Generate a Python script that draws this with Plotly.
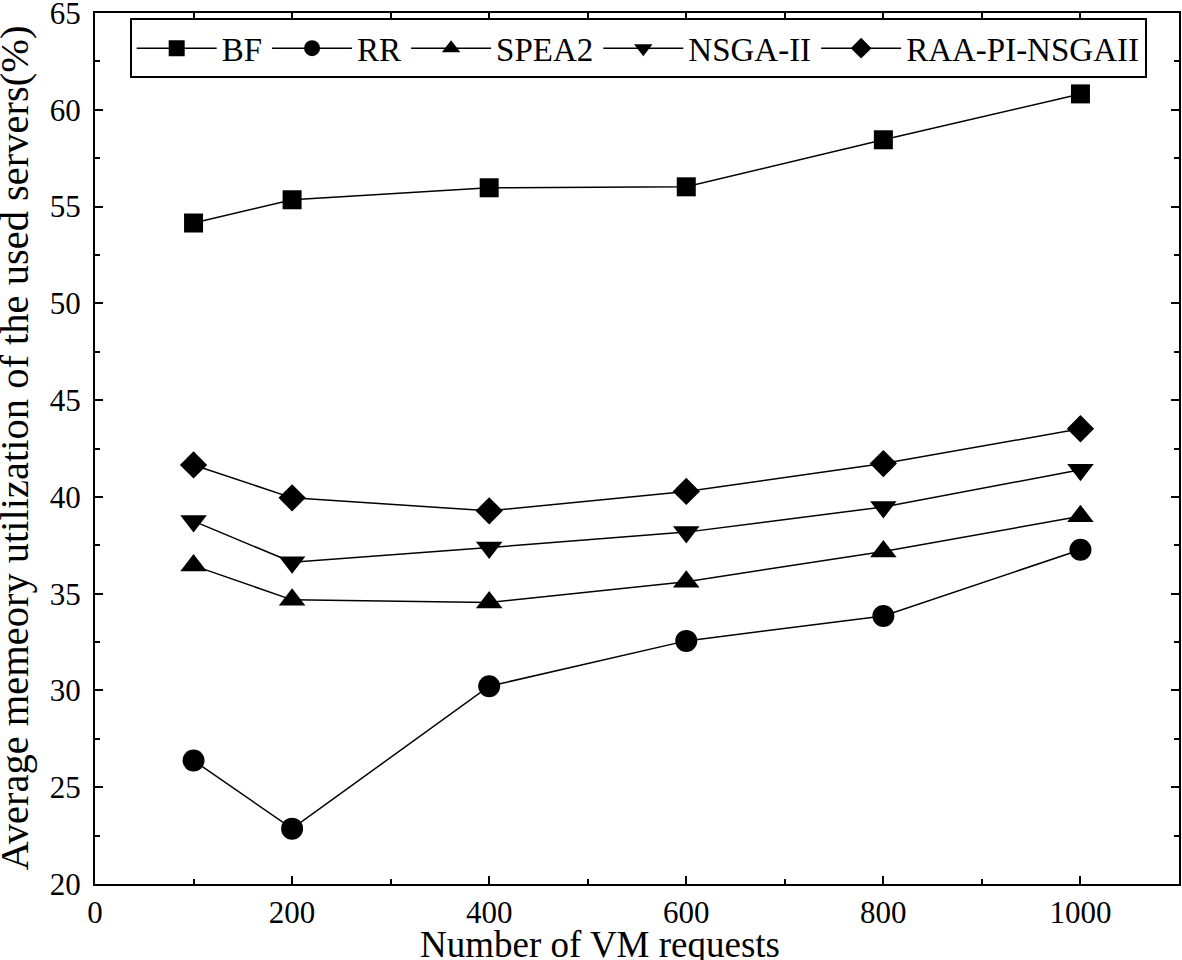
import plotly.graph_objects as go

x_vals = [100, 200, 400, 600, 800, 1000]
bf = [54.15, 55.35, 55.97, 56.02, 58.45, 60.82]
rr = [26.38, 22.86, 30.22, 32.56, 33.85, 37.27]
spea2 = [36.45, 34.68, 34.55, 35.62, 37.18, 39.0]
nsga2 = [38.75, 36.62, 37.38, 38.18, 39.48, 41.4]
raa = [41.65, 39.95, 39.28, 40.28, 41.72, 43.52]

x_title = "Number of VM requests"
y_title = "Average memeory utilization of the used servers(%)"

series = [
    ("BF", bf, "square", 19),
    ("RR", rr, "circle", 22),
    ("SPEA2", spea2, "triangle-up", 23),
    ("NSGA-II", nsga2, "triangle-down", 23),
    ("RAA-PI-NSGAII", raa, "diamond", 21),
]

FONT = "Liberation Serif"
fig = go.Figure()
for name, vals, sym, sz in series:
    fig.add_trace(go.Scatter(
        x=x_vals, y=vals, name=name, mode="lines+markers",
        line=dict(color="black", width=1.5),
        marker=dict(symbol=sym, size=sz, color="black"),
    ))

axis_common = dict(
    showline=True, linecolor="black", linewidth=2, mirror="allticks",
    ticks="inside", ticklen=8, tickwidth=1.5, tickcolor="black",
    showgrid=False, zeroline=False, automargin=False,
    ticklabeloverflow="allow",
    tickfont=dict(family=FONT, size=31, color="black"),
)
fig.update_xaxes(
    range=[0, 1100], dtick=200, tick0=0,
    minor=dict(ticks="inside", ticklen=5, tickwidth=1.5, tickcolor="black", dtick=100, showgrid=False),
    ticklabelstandoff=0,
    **axis_common,
)
fig.update_yaxes(
    range=[20, 65], dtick=5, tick0=20,
    minor=dict(ticks="inside", ticklen=5, tickwidth=1.5, tickcolor="black", dtick=2.5, showgrid=False),
    ticklabelstandoff=6,
    **axis_common,
)
fig.add_annotation(
    text=x_title, xref="paper", yref="paper", x=0.5, y=0,
    xanchor="center", yanchor="middle", xshift=-37, yshift=-60,
    showarrow=False, font=dict(family=FONT, size=37, color="black"),
)
fig.add_annotation(
    text=y_title, xref="paper", yref="paper", x=0, y=0.5,
    xanchor="center", yanchor="middle", xshift=-81, textangle=-90,
    showarrow=False, font=dict(family=FONT, size=40.5, color="black"),
)
fig.update_layout(
    width=1182, height=960,
    margin=dict(l=95, r=3, t=13, b=76),
    plot_bgcolor="white", paper_bgcolor="white",
    legend=dict(
        orientation="h", x=0.032, y=0.994, xanchor="left", yanchor="top",
        bordercolor="black", borderwidth=2, bgcolor="white",
        font=dict(family=FONT, size=33, color="black"),
        itemwidth=80, tracegroupgap=0,
    ),
)
fig.write_html(
    "out.html",
    config={"displayModeBar": False},
    post_script="document.body.style.margin='0';document.body.style.overflow='hidden';",
)
